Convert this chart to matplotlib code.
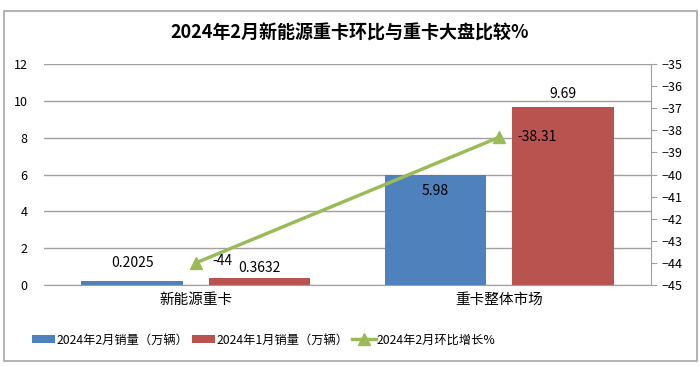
import numpy as np
import matplotlib.pyplot as plt
from matplotlib.patches import Rectangle

plt.rcParams['font.family'] = ['Noto Sans CJK SC', 'DejaVu Sans']

categories = ['新能源重卡', '重卡整体市场']
feb_sales = [0.2025, 5.98]
jan_sales = [0.3632, 9.69]
mom_growth = [-44, -38.31]
feb_labels = ['0.2025', '5.98']
jan_labels = ['0.3632', '9.69']
growth_labels = ['-44', '-38.31']

blue = '#4F81BD'
red = '#B8534F'
green = '#9BBB59'

fig = plt.figure(figsize=(7, 3.67), dpi=100)
fig.patches.append(Rectangle((0.005, 0.015), 0.99, 0.955, transform=fig.transFigure,
                             fill=False, edgecolor='#A6A6A6', lw=1.2))
fig.text(0.5, 0.91, '2024年2月新能源重卡环比与重卡大盘比较%', ha='center', va='center',
         fontsize=13, fontweight='bold')

ax = fig.add_axes([0.063, 0.2234, 0.867, 0.6022])
x = np.arange(len(categories))
w = 0.335
b1 = ax.bar(x - 0.21, feb_sales, w, color=blue, label='2024年2月销量（万辆）', zorder=2)
b2 = ax.bar(x + 0.21, jan_sales, w, color=red, label='2024年1月销量（万辆）', zorder=2)
ax.set_xlim(-0.5, 1.5)
ax.set_ylim(0, 12)
ax.set_yticks(range(0, 13, 2))
ax.grid(axis='y', color='#A0A0A0', lw=1, zorder=0)
ax.tick_params(axis='y', length=0, labelsize=9, pad=12)
ax.tick_params(axis='x', length=0, labelsize=10.5, pad=6)
ax.set_xticks(x)
ax.set_xticklabels(categories)
for s in ['top', 'right', 'left']:
    ax.spines[s].set_visible(False)
ax.spines['bottom'].set_color('#A0A0A0')

# data labels on bars
ax.text(x[0] - 0.21, feb_sales[0] + 0.6, feb_labels[0], ha='center', va='bottom', fontsize=10)
ax.text(x[0] + 0.21, jan_sales[0] + 0.2, jan_labels[0], ha='center', va='bottom', fontsize=10)
ax.text(x[1] - 0.21, feb_sales[1] - 0.5, feb_labels[1], ha='center', va='top', fontsize=10)
ax.text(x[1] + 0.21, jan_sales[1] + 0.3, jan_labels[1], ha='center', va='bottom', fontsize=10)

ax2 = ax.twinx()
ln, = ax2.plot(x, mom_growth, color=green, lw=2.5, marker='^', markersize=8,
               label='2024年2月环比增长%', zorder=3)
ax2.set_ylim(-45, -35)
ax2.set_yticks(range(-45, -34))
ax2.tick_params(axis='y', labelsize=9, length=4, color='#A0A0A0', direction='out')
for s in ['top', 'left', 'bottom']:
    ax2.spines[s].set_visible(False)
ax2.spines['right'].set_color('#A0A0A0')
ax2.text(x[0] + 0.055, mom_growth[0] + 0.1, growth_labels[0], ha='left', va='center', fontsize=10)
ax2.text(x[1] + 0.06, mom_growth[1], growth_labels[1], ha='left', va='center', fontsize=10)

fig.legend([b1, b2, ln], [b1.get_label(), b2.get_label(), ln.get_label()],
           loc='center', bbox_to_anchor=(0.377, 0.074), ncol=3, frameon=False,
           fontsize=8.8, handlelength=1.9, handletextpad=0.1, columnspacing=0.3)

fig.savefig('out.png', dpi=100)
